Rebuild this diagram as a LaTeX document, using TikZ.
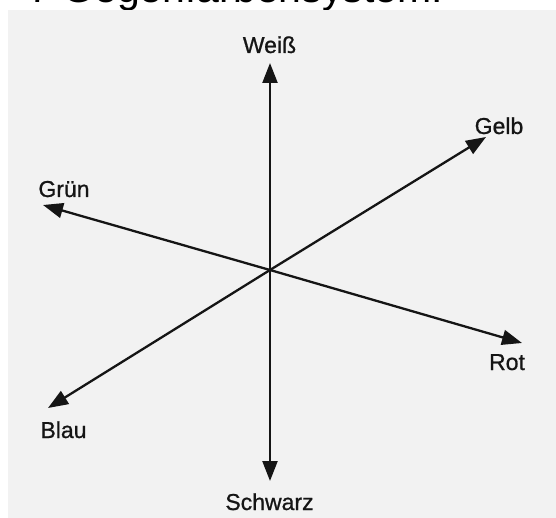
\documentclass[tikz,border=0pt]{standalone}
\usepackage{fontspec}
\setmainfont{Liberation Sans}
\newfontfamily\lblfont[FakeBold=0.8]{Liberation Sans}
\usetikzlibrary{arrows.meta}
\definecolor{paper}{HTML}{F2F2F2}
\definecolor{ink}{HTML}{151515}
\begin{document}
\begin{tikzpicture}[x=1pt,y=-1pt,
  axis/.style={line width=2.3pt,draw=ink,-{Triangle[length=20pt,width=15pt]}},
  lbl/.style={anchor=base,inner sep=0pt,text=ink,font=\lblfont\fontsize{23}{23}\selectfont},
  ttl/.style={anchor=base west,inner sep=0pt,text=black,font=\fontsize{41}{41}\selectfont}]
\clip (0,0) rectangle (556,518);
\useasboundingbox (0,0) rectangle (556,518);
\fill[white] (0,0) rectangle (556,518);
\node[ttl] (title) at (28,3) {7 Gegenfarbensystem:};
\fill[paper] (8,10) rectangle (556,518);
% centre and arrow tips
\coordinate (c) at (270,270);
\coordinate (tW) at (270,63);
\coordinate (tS) at (270,481);
\coordinate (tGe) at (486,137);
\coordinate (tB) at (48,408);
\coordinate (tGr) at (43,205);
\coordinate (tR) at (522,343);
\draw[axis] (c) -- (tW);
\draw[axis] (c) -- (tS);
\draw[axis] (c) -- (tGe);
\draw[axis] (c) -- (tB);
\draw[axis] (c) -- (tGr);
\draw[axis] (c) -- (tR);
% labels
\node[lbl] (weiss) at (269.5,53) {Weiß};
\node[lbl] (schwarz) at (269.5,510) {Schwarz};
\node[lbl] (gelb) at (499,134) {Gelb};
\node[lbl] (blau) at (63.5,438) {Blau};
\node[lbl] (gruen) at (64,197) {Grün};
\node[lbl] (rot) at (507,370) {Rot};
\end{tikzpicture}
\end{document}
